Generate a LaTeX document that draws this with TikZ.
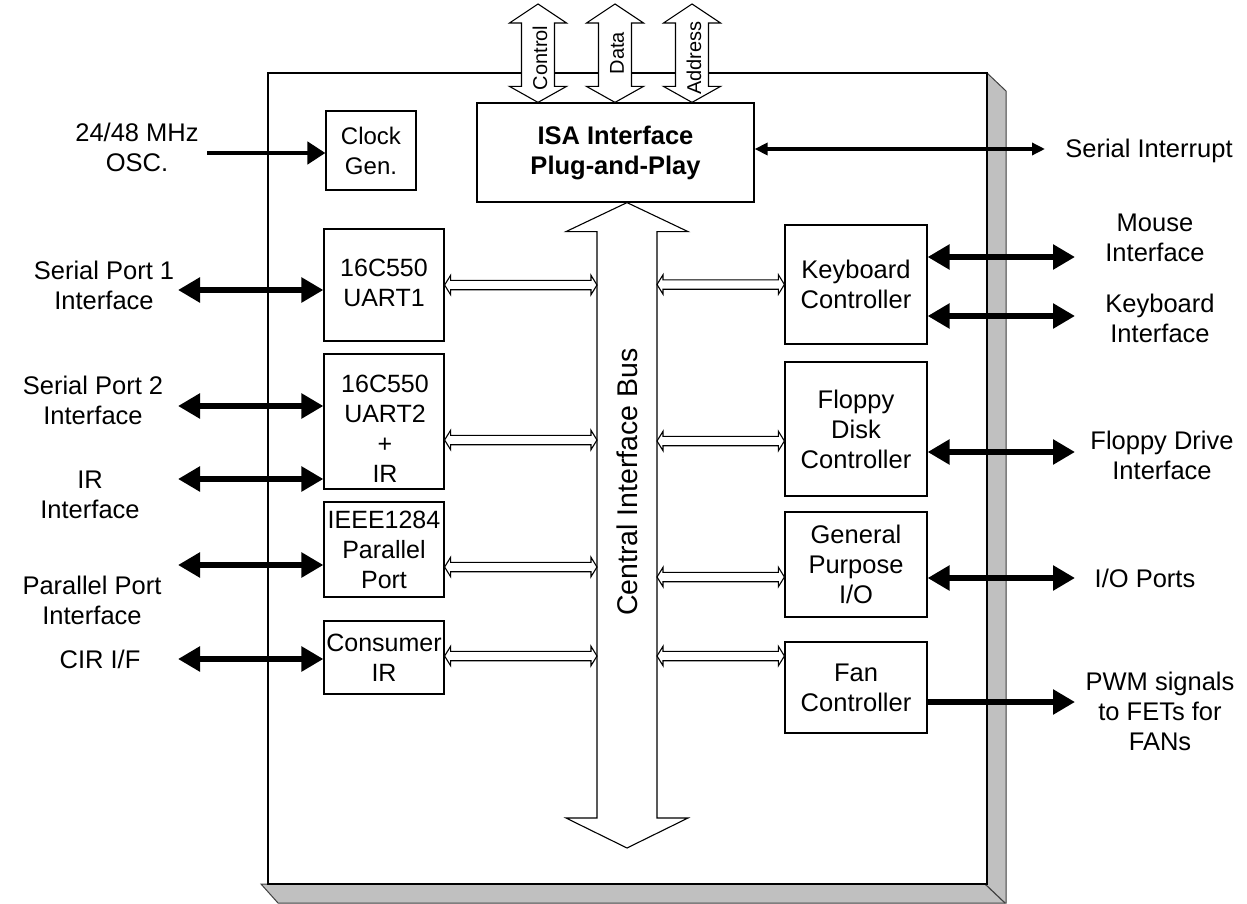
\documentclass[tikz,border=0pt]{standalone}
\usepackage{fontspec}
\setmainfont{Liberation Sans}
\usetikzlibrary{arrows.meta,calc}
\newcommand\fsN{\fontsize{25.5}{30}\selectfont}
\newcommand\fsL{\fontsize{25}{30}\selectfont}
\newcommand\fsC{\fontsize{24}{30}\selectfont}
\newcommand\fsS{\fontsize{20}{24}\selectfont}
\newcommand\fsBus{\fontsize{28.5}{32}\selectfont}
\definecolor{shgray}{HTML}{C0C0C0}
\definecolor{shline}{HTML}{404040}
% hollow double arrow, horizontal: #1 left end, #2 right end
\newcommand\hollowH[2]{%
  \filldraw[hol] let \p1=(#1), \p2=(#2) in
  (\x1,\y1) -- (\x1+6pt,\y1+9.7pt) -- (\x1+6pt,\y1+4.7pt) -- (\x2-6pt,\y1+4.7pt)
  -- (\x2-6pt,\y1+9.7pt) -- (\x2,\y1) -- (\x2-6pt,\y1-9.7pt) -- (\x2-6pt,\y1-4.7pt)
  -- (\x1+6pt,\y1-4.7pt) -- (\x1+6pt,\y1-9.7pt) -- cycle;}
% hollow double arrow, vertical: #1 top, #2 bottom, #3 shaft half, #4 head half, #5 top head len, #6 bottom head len
\newcommand\hollowV[6]{%
  \filldraw[hol] let \p1=(#1), \p2=(#2) in
  (\x1,\y1) -- (\x1+#4,\y1-#5) -- (\x1+#3,\y1-#5) -- (\x1+#3,\y2+#6)
  -- (\x1+#4,\y2+#6) -- (\x1,\y2) -- (\x1-#4,\y2+#6) -- (\x1-#3,\y2+#6)
  -- (\x1-#3,\y1-#5) -- (\x1-#4,\y1-#5) -- cycle;}
\tikzset{
  hol/.style={draw=black, fill=white, line width=1.1pt, line join=miter},
  blk/.style={draw=black, fill=white, line width=1.2pt, align=center, font=\fsN, inner sep=0pt},
  lblk/.style={blk, font=\fsL},
  lbl/.style={align=center, font=\fsN, inner sep=0pt},
  tarr2/.style={line width=6pt, {Triangle[length=22pt,width=24pt]}-{Triangle[length=22pt,width=24pt]}},
  tarr1/.style={line width=6pt, -{Triangle[length=22pt,width=24pt]}},
  clkarr/.style={line width=4.5pt, -{Triangle[length=18pt,width=22pt]}},
  siarr/.style={line width=3.5pt, {Triangle[length=13pt,width=12pt]}-{Triangle[length=13pt,width=12pt]}},
}
\begin{document}
\begin{tikzpicture}[x=1pt,y=1pt]
\useasboundingbox (0,0) rectangle (1247,-904);
\fill[white] (0,0) rectangle (1247,-904);

% chip body with shadow
\filldraw[fill=shgray, draw=shline, line width=1pt]
  (987,-73) -- (1006,-91) -- (1006,-903) -- (278,-903) -- (261,-884) -- (987,-884) -- cycle;
\draw[shline, line width=1.2pt] (985,-884) -- (1005,-903);
\draw[line width=1.2pt, fill=white] (268,-73) rectangle (987,-884);

% blocks
\node[blk, font=\fsC, minimum width=90pt, minimum height=79pt] (clk) at (371,-150.5) {Clock\\Gen.};
\node[blk, minimum width=277pt, minimum height=99pt, font=\fsN\bfseries] (isa) at (615.5,-152.5) {ISA Interface\\Plug-and-Play};
\node[lblk, minimum width=120pt, minimum height=112pt] (u1) at (384,-285) {};
\node[align=center, font=\fsL, inner sep=0pt] (u1t) at (384,-283) {16C550\\UART1};
\node[lblk, minimum width=120pt, minimum height=135pt] (u2) at (384,-421.5) {};
\node[align=center, font=\fsL, inner sep=0pt] (u2t) at (385,-429) {16C550\\UART2\\+\\IR};
\node[lblk, minimum width=120pt, minimum height=95pt] (par) at (384,-549.5) {IEEE1284\\Parallel\\Port};
\node[lblk, minimum width=120pt, minimum height=73pt] (cir) at (384,-657.5) {Consumer\\IR};
\node[blk, minimum width=142pt, minimum height=119pt] (kbd) at (856,-284.5) {Keyboard\\Controller};
\node[blk, minimum width=142pt, minimum height=134pt] (fdc) at (856,-429) {Floppy\\Disk\\Controller};
\node[blk, minimum width=142pt, minimum height=105pt] (gpio) at (856,-564.5) {General\\Purpose\\I/O};
\node[blk, minimum width=142pt, minimum height=91pt] (fan) at (856,-687.5) {Fan\\Controller};

% top bus arrows
\coordinate (ctlT) at (538,-4);
\coordinate (datT) at (615,-4);
\coordinate (adrT) at (692,-4);
\hollowV{ctlT}{ctlT |- isa.north}{16.5pt}{28.5pt}{19pt}{16pt}
\hollowV{datT}{datT |- isa.north}{16.5pt}{28.5pt}{19pt}{16pt}
\hollowV{adrT}{adrT |- isa.north}{16.5pt}{28.5pt}{19pt}{16pt}
\node[rotate=90, font=\fsS, inner sep=0pt] (ctlL) at (540,-58) {Control};
\node[rotate=90, font=\fsS, inner sep=0pt] (datL) at (617,-53) {Data};
\node[rotate=90, font=\fsS, inner sep=0pt] (adrL) at (694,-58) {Address};

% central interface bus
\coordinate (busB) at (627,-848);
\hollowV{isa.south -| busB}{busB}{30pt}{61pt}{29pt}{30pt}
\node[rotate=90, font=\fsBus, inner sep=0pt] (busL) at (627,-482) {Central Interface Bus};
\coordinate (bL) at (597,-525);
\coordinate (bR) at (657,-525);

% bus links
\coordinate (a1) at (u1.east);
\coordinate (a2) at (u2.east |- 0,-440);
\coordinate (a3) at (par.east |- 0,-567);
\coordinate (a4) at (cir.east |- 0,-656);
\hollowH{a1}{a1 -| bL}
\hollowH{a2}{a2 -| bL}
\hollowH{a3}{a3 -| bL}
\hollowH{a4}{a4 -| bL}
\coordinate (b1) at (kbd.west);
\coordinate (b2) at ([yshift=-12pt]fdc.west);
\coordinate (b3) at ([yshift=-12.5pt]gpio.west);
\coordinate (b4) at ([yshift=31.5pt]fan.west);
\hollowH{b1 -| bR}{b1}
\hollowH{b2 -| bR}{b2}
\hollowH{b3 -| bR}{b3}
\hollowH{b4 -| bR}{b4}

% external labels
\node[lbl] (osc) at (137,-147) {24/48 MHz\\OSC.};
\node[lbl] (sp1) at (104,-285) {Serial Port 1\\Interface};
\node[lbl] (sp2) at (93,-400) {Serial Port 2\\Interface};
\node[lbl] (irl) at (90,-495) {IR\\Interface};
\node[lbl] (ppl) at (92,-600) {Parallel Port\\Interface};
\node[lbl] (cirl) at (100,-659) {CIR I/F};
\node[lbl] (si) at (1149,-151) {Serial Interrupt};
\node[lbl] (ms) at (1155,-238) {Mouse\\Interface};
\node[lbl] (kb) at (1160,-318) {Keyboard\\Interface};
\node[lbl] (fd) at (1162,-455) {Floppy Drive\\Interface};
\node[lbl] (io) at (1145,-578) {I/O Ports};
\node[lbl] (pwm) at (1160,-711) {PWM signals\\to FETs for\\FANs};

% external connectors
\coordinate (oscE) at (207,-153);
\draw[clkarr] (oscE) -- (oscE -| clk.west);
\coordinate (siE) at (1045,-149);
\draw[siarr] (siE -| isa.east) -- (siE);

\coordinate (l1) at (178,-290);
\coordinate (l2) at (178,-406);
\coordinate (l3) at (178,-479);
\coordinate (l4) at (178,-565);
\coordinate (l5) at (178,-659);
\draw[tarr2] (l1) -- (l1 -| u1.west);
\draw[tarr2] (l2) -- (l2 -| u2.west);
\draw[tarr2] (l3) -- (l3 -| u2.west);
\draw[tarr2] (l4) -- (l4 -| par.west);
\draw[tarr2] (l5) -- (l5 -| cir.west);

\coordinate (r1) at (1075,-257);
\coordinate (r2) at (1075,-316);
\coordinate (r3) at (1075,-452);
\coordinate (r4) at (1075,-578);
\coordinate (r5) at (1075,-702);
\draw[tarr2] (r1 -| kbd.east) -- (r1);
\draw[tarr2] (r2 -| kbd.east) -- (r2);
\draw[tarr2] (r3 -| fdc.east) -- (r3);
\draw[tarr2] (r4 -| gpio.east) -- (r4);
\draw[tarr1] (r5 -| fan.east) -- (r5);
\end{tikzpicture}
\end{document}
